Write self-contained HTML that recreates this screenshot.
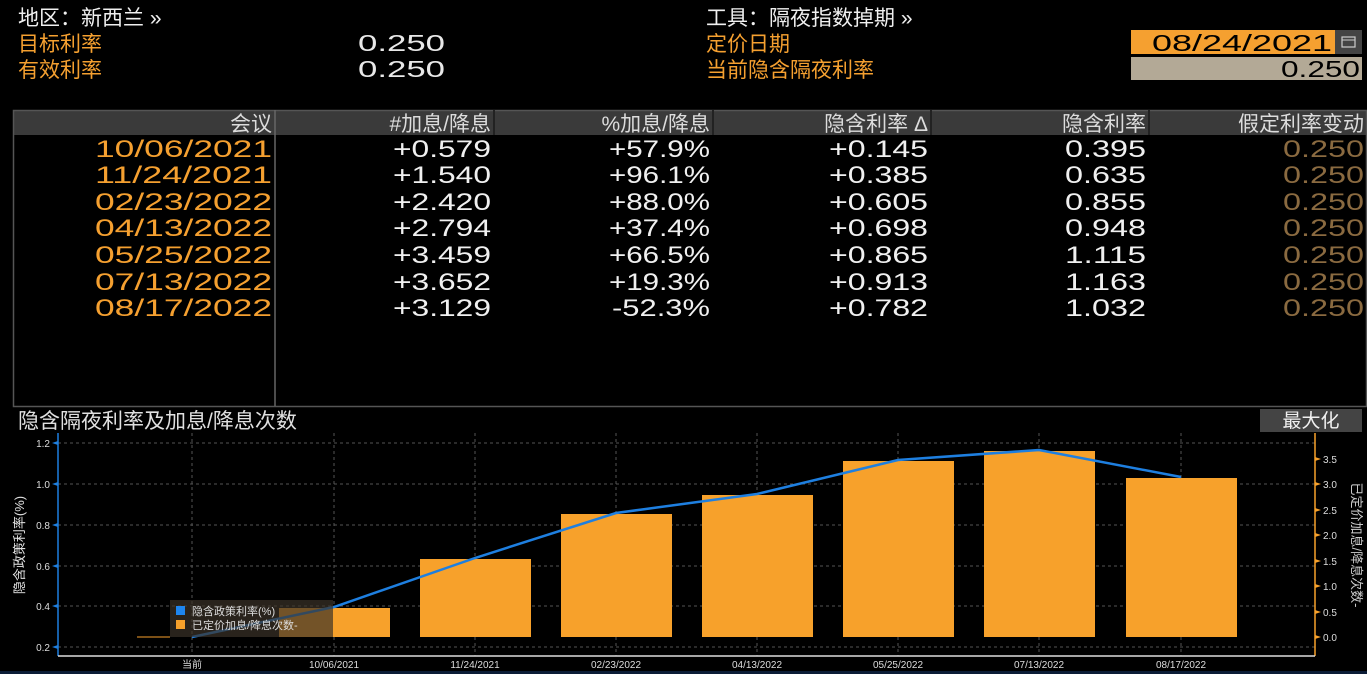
<!DOCTYPE html>
<html><head><meta charset="utf-8"><style>
html,body{margin:0;padding:0;background:#000;width:1367px;height:674px;overflow:hidden}
svg{display:block}
text{font-family:"Liberation Sans","Noto Sans CJK SC",sans-serif}
</style></head><body>
<svg width="1367" height="674" viewBox="0 0 1367 674" xmlns="http://www.w3.org/2000/svg">
<rect width="1367" height="674" fill="#000"/>
<g font-size="21">
<text x="18" y="25" fill="#f0f0f0">地区：新西兰 »</text>
<text x="18" y="51" fill="#f5a030">目标利率</text>
<text x="18" y="77" fill="#f5a030">有效利率</text>
<text x="358" y="51" font-size="23" fill="#e8e8e8" textLength="87" lengthAdjust="spacingAndGlyphs">0.250</text>
<text x="358" y="77" font-size="23" fill="#e8e8e8" textLength="87" lengthAdjust="spacingAndGlyphs">0.250</text>
<text x="706" y="25" fill="#f0f0f0">工具：隔夜指数掉期 »</text>
<text x="706" y="51" fill="#f5a030">定价日期</text>
<text x="706" y="77" fill="#f5a030">当前隐含隔夜利率</text>
</g>
<rect x="1131" y="30" width="204" height="24" fill="#f5a030"/>
<rect x="1335" y="30" width="27" height="24" fill="#444"/>
<rect x="1342" y="37" width="13" height="10" fill="none" stroke="#ccc" stroke-width="1.2"/>
<line x1="1342" y1="40" x2="1355" y2="40" stroke="#ccc" stroke-width="1"/>
<rect x="1131" y="57" width="231" height="23" fill="#b3a996"/>
<text x="1152" y="51" font-size="23" fill="#000" textLength="180" lengthAdjust="spacingAndGlyphs">08/24/2021</text>
<text x="1281" y="77" font-size="23" fill="#000" textLength="79" lengthAdjust="spacingAndGlyphs">0.250</text>
<rect x="13" y="110" width="1354" height="25" fill="#3a3a3a"/>
<rect x="13.5" y="110.5" width="1353" height="296" fill="none" stroke="#555" stroke-width="1.5"/>
<line x1="275" y1="110" x2="275" y2="406" stroke="#666" stroke-width="1.5"/>
<g stroke="#222" stroke-width="2">
<line x1="494" y1="110" x2="494" y2="135"/><line x1="713" y1="110" x2="713" y2="135"/>
<line x1="931" y1="110" x2="931" y2="135"/><line x1="1149" y1="110" x2="1149" y2="135"/>
</g>
<g font-size="21" fill="#dcdcdc" text-anchor="end">
<text x="272" y="131">会议</text>
<text x="491" y="131">#加息/降息</text>
<text x="710" y="131">%加息/降息</text>
<text x="928" y="131">隐含利率 Δ</text>
<text x="1146" y="131">隐含利率</text>
<text x="1364" y="131">假定利率变动</text>
</g>
<g font-size="24">
<g fill="#f5a030">
<text x="95" y="157" textLength="177" lengthAdjust="spacingAndGlyphs">10/06/2021</text>
<text x="95" y="183" textLength="177" lengthAdjust="spacingAndGlyphs">11/24/2021</text>
<text x="95" y="210" textLength="177" lengthAdjust="spacingAndGlyphs">02/23/2022</text>
<text x="95" y="236" textLength="177" lengthAdjust="spacingAndGlyphs">04/13/2022</text>
<text x="95" y="263" textLength="177" lengthAdjust="spacingAndGlyphs">05/25/2022</text>
<text x="95" y="290" textLength="177" lengthAdjust="spacingAndGlyphs">07/13/2022</text>
<text x="95" y="316" textLength="177" lengthAdjust="spacingAndGlyphs">08/17/2022</text>
</g>
<g fill="#f0f0f0">
<text x="393" y="157" textLength="98" lengthAdjust="spacingAndGlyphs">+0.579</text>
<text x="393" y="183" textLength="98" lengthAdjust="spacingAndGlyphs">+1.540</text>
<text x="393" y="210" textLength="98" lengthAdjust="spacingAndGlyphs">+2.420</text>
<text x="393" y="236" textLength="98" lengthAdjust="spacingAndGlyphs">+2.794</text>
<text x="393" y="263" textLength="98" lengthAdjust="spacingAndGlyphs">+3.459</text>
<text x="393" y="290" textLength="98" lengthAdjust="spacingAndGlyphs">+3.652</text>
<text x="393" y="316" textLength="98" lengthAdjust="spacingAndGlyphs">+3.129</text>
<text x="609" y="157" textLength="101" lengthAdjust="spacingAndGlyphs">+57.9%</text>
<text x="609" y="183" textLength="101" lengthAdjust="spacingAndGlyphs">+96.1%</text>
<text x="609" y="210" textLength="101" lengthAdjust="spacingAndGlyphs">+88.0%</text>
<text x="609" y="236" textLength="101" lengthAdjust="spacingAndGlyphs">+37.4%</text>
<text x="609" y="263" textLength="101" lengthAdjust="spacingAndGlyphs">+66.5%</text>
<text x="609" y="290" textLength="101" lengthAdjust="spacingAndGlyphs">+19.3%</text>
<text x="612" y="316" textLength="98" lengthAdjust="spacingAndGlyphs">-52.3%</text>
<text x="829" y="157" textLength="99" lengthAdjust="spacingAndGlyphs">+0.145</text>
<text x="829" y="183" textLength="99" lengthAdjust="spacingAndGlyphs">+0.385</text>
<text x="829" y="210" textLength="99" lengthAdjust="spacingAndGlyphs">+0.605</text>
<text x="829" y="236" textLength="99" lengthAdjust="spacingAndGlyphs">+0.698</text>
<text x="829" y="263" textLength="99" lengthAdjust="spacingAndGlyphs">+0.865</text>
<text x="829" y="290" textLength="99" lengthAdjust="spacingAndGlyphs">+0.913</text>
<text x="829" y="316" textLength="99" lengthAdjust="spacingAndGlyphs">+0.782</text>
<text x="1065" y="157" textLength="81" lengthAdjust="spacingAndGlyphs">0.395</text>
<text x="1065" y="183" textLength="81" lengthAdjust="spacingAndGlyphs">0.635</text>
<text x="1065" y="210" textLength="81" lengthAdjust="spacingAndGlyphs">0.855</text>
<text x="1065" y="236" textLength="81" lengthAdjust="spacingAndGlyphs">0.948</text>
<text x="1065" y="263" textLength="81" lengthAdjust="spacingAndGlyphs">1.115</text>
<text x="1065" y="290" textLength="81" lengthAdjust="spacingAndGlyphs">1.163</text>
<text x="1065" y="316" textLength="81" lengthAdjust="spacingAndGlyphs">1.032</text>
</g>
<g fill="#8a6a40">
<text x="1283" y="157" textLength="81" lengthAdjust="spacingAndGlyphs">0.250</text>
<text x="1283" y="183" textLength="81" lengthAdjust="spacingAndGlyphs">0.250</text>
<text x="1283" y="210" textLength="81" lengthAdjust="spacingAndGlyphs">0.250</text>
<text x="1283" y="236" textLength="81" lengthAdjust="spacingAndGlyphs">0.250</text>
<text x="1283" y="263" textLength="81" lengthAdjust="spacingAndGlyphs">0.250</text>
<text x="1283" y="290" textLength="81" lengthAdjust="spacingAndGlyphs">0.250</text>
<text x="1283" y="316" textLength="81" lengthAdjust="spacingAndGlyphs">0.250</text>
</g>
</g>
<text x="18" y="428" font-size="21" fill="#e0e0e0">隐含隔夜利率及加息/降息次数</text>
<rect x="1260" y="409" width="102" height="23" fill="#444"/>
<text x="1311" y="427" font-size="19" fill="#f0f0f0" text-anchor="middle">最大化</text>
<g stroke="#555" stroke-width="1" stroke-dasharray="3,3">
<line x1="58" y1="443" x2="1315" y2="443"/><line x1="58" y1="484" x2="1315" y2="484"/>
<line x1="58" y1="525" x2="1315" y2="525"/><line x1="58" y1="566" x2="1315" y2="566"/>
<line x1="58" y1="606" x2="1315" y2="606"/><line x1="58" y1="647" x2="1315" y2="647"/>
<line x1="192" y1="433" x2="192" y2="656"/><line x1="334" y1="433" x2="334" y2="656"/>
<line x1="475" y1="433" x2="475" y2="656"/><line x1="616" y1="433" x2="616" y2="656"/>
<line x1="757" y1="433" x2="757" y2="656"/><line x1="898" y1="433" x2="898" y2="656"/>
<line x1="1039" y1="433" x2="1039" y2="656"/><line x1="1181" y1="433" x2="1181" y2="656"/>
</g>
<g fill="#f7a12b">
<line x1="137" y1="637" x2="170" y2="637" stroke="#f7a12b" stroke-width="1"/>
<rect x="279" y="608" width="111" height="29"/>
<rect x="420" y="559" width="111" height="78"/>
<rect x="561" y="514" width="111" height="123"/>
<rect x="702" y="495" width="111" height="142"/>
<rect x="843" y="461" width="111" height="176"/>
<rect x="984" y="451" width="111" height="186"/>
<rect x="1126" y="478" width="111" height="159"/>
</g>
<polyline points="192,637 334,607 475,558 616,513 757,494 898,460 1039,450 1181,477" fill="none" stroke="#1e7fe0" stroke-width="2.5"/>
<rect x="170" y="600" width="163" height="37" fill="#3a3228" opacity="0.7"/>
<rect x="176" y="606" width="9" height="9" fill="#1e86f0"/>
<rect x="176" y="620" width="9" height="9" fill="#f7a12b"/>
<text x="192" y="615" font-size="11" fill="#ddd">隐含政策利率(%)</text>
<text x="192" y="629" font-size="11" fill="#ddd">已定价加息/降息次数-</text>
<line x1="58" y1="433" x2="58" y2="656" stroke="#1e7fe0" stroke-width="1.5"/>
<line x1="1315" y1="433" x2="1315" y2="656" stroke="#f7a12b" stroke-width="1.5"/>
<line x1="58" y1="656" x2="1315" y2="656" stroke="#ddd" stroke-width="1.5"/>
<g fill="#1e7fe0">
<path d="M52,443 l6,-2 v4z"/><path d="M52,484 l6,-2 v4z"/><path d="M52,525 l6,-2 v4z"/>
<path d="M52,566 l6,-2 v4z"/><path d="M52,606 l6,-2 v4z"/><path d="M52,647 l6,-2 v4z"/>
</g>
<g fill="#f7a12b">
<path d="M1321,459 l-6,-2 v4z"/><path d="M1321,484 l-6,-2 v4z"/><path d="M1321,510 l-6,-2 v4z"/>
<path d="M1321,535 l-6,-2 v4z"/><path d="M1321,561 l-6,-2 v4z"/><path d="M1321,586 l-6,-2 v4z"/>
<path d="M1321,612 l-6,-2 v4z"/><path d="M1321,637 l-6,-2 v4z"/>
</g>
<g font-size="10" fill="#ddd" text-anchor="end">
<text x="50" y="447">1.2</text><text x="50" y="488">1.0</text><text x="50" y="529">0.8</text>
<text x="50" y="570">0.6</text><text x="50" y="610">0.4</text><text x="50" y="651">0.2</text>
</g>
<g font-size="10" fill="#ddd">
<text x="1323" y="463">3.5</text><text x="1323" y="488">3.0</text><text x="1323" y="514">2.5</text>
<text x="1323" y="539">2.0</text><text x="1323" y="565">1.5</text><text x="1323" y="590">1.0</text>
<text x="1323" y="616">0.5</text><text x="1323" y="641">0.0</text>
</g>
<g font-size="10" fill="#ddd" text-anchor="middle">
<text x="192" y="668">当前</text><text x="334" y="668">10/06/2021</text><text x="475" y="668">11/24/2021</text>
<text x="616" y="668">02/23/2022</text><text x="757" y="668">04/13/2022</text><text x="898" y="668">05/25/2022</text>
<text x="1039" y="668">07/13/2022</text><text x="1181" y="668">08/17/2022</text>
</g>
<text transform="translate(24,545) rotate(-90)" font-size="13" fill="#e0e0e0" text-anchor="middle">隐含政策利率(%)</text>
<text transform="translate(1352,545) rotate(90)" font-size="13" fill="#ccc" text-anchor="middle">已定价加息/降息次数-</text>
<rect x="0" y="671" width="1367" height="3" fill="#0b1c36"/>
</svg>
</body></html>
